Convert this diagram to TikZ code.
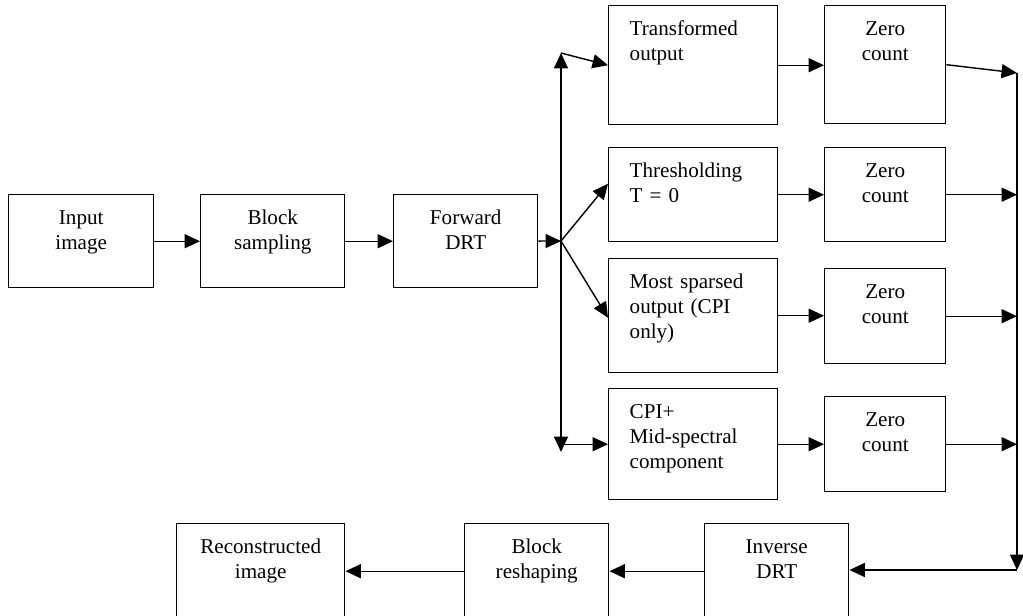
\documentclass[tikz,border=0pt]{standalone}
\usepackage{fontspec}
\setmainfont{Liberation Serif}
\usepackage{tkz-euclide}
\usetikzlibrary{arrows.meta}

\begin{document}
\begin{tikzpicture}[x=0.025cm,y=-0.025cm,
    blk/.style={draw,line width=1pt,anchor=north west,inner ysep=0pt,
        text height=0.74cm,font=\fontsize{15}{17.8}\selectfont},
    mid/.style={inner xsep=0pt,align=center},% centred text
    lft/.style={inner xsep=0.525cm,text width=3.175cm,align=left},
    arr/.style={line width=1pt,-{Triangle[length=11pt,width=10pt]}}
    ]
\useasboundingbox (0,0) rectangle (1023,616);
\clip (0,0) rectangle (1023,616);
\tkzDefPoints{561/241/J,561/53/T,561/452/B,1017/73/R,1017/570/S}
% forward part
\node[blk,mid,text width=3.625cm,text depth=1.585cm] (in) at (8,194) {Input\\image};
\node[blk,mid,text width=3.6cm,text depth=1.585cm] (samp) at (200,194) {Block\\sampling};
\node[blk,mid,text width=3.6cm,text depth=1.585cm] (fwd) at (393,194) {Forward\\DRT};
% four branches
\node[blk,lft,text depth=2.235cm] (trans) at (608,5) {Transformed\\output};
\node[blk,lft,text depth=1.61cm] (thr) at (608,147) {Thresholding\\T = 0};
\node[blk,lft,text depth=2.11cm] (sparse) at (608,258) {Most sparsed\\output (CPI\\only)};
\node[blk,lft,text depth=2.035cm] (cpi) at (608,388) {CPI+\\Mid-spectral\\component};
\node[blk,mid,text width=3.025cm,text depth=2.21cm] (z1) at (824,5) {Zero\\count};
\node[blk,mid,text width=3.025cm,text depth=1.61cm] (z2) at (824,147) {Zero\\count};
\node[blk,mid,text width=3.025cm,text depth=1.635cm] (z3) at (824,268) {Zero\\count};
\node[blk,mid,text width=3.025cm,text depth=1.635cm] (z4) at (824,396) {Zero\\count};
% inverse part
\node[blk,mid,text width=3.6cm,text depth=1.635cm] (inv) at (704,523) {Inverse\\DRT};
\node[blk,mid,text width=3.6cm,text depth=1.635cm] (resh) at (464,523) {Block\\reshaping};
\node[blk,mid,text width=4.2cm,text depth=1.635cm] (rec) at (176,523) {Reconstructed\\image};

\draw[arr] (in) -- (samp);
\draw[arr] (samp) -- (fwd);
\draw[arr] (fwd) -- (J);
\draw[arr] (J) -- (T);
\draw[arr] (J) -- (B);
\draw[arr] (T) -- (trans.west);
\draw[arr] (J) -- ([yshift=0.275cm]thr.west);
\draw[arr] (J) -- ([yshift=-0.05cm]sparse.west);
\draw[arr] (B |- cpi.west) -- (cpi.west);
\foreach \a/\b in {trans/z1,thr/z2,sparse/z3,cpi/z4}
    \draw[arr] (\a.east) -- (\a.east -| \b.west);
\draw[arr] (z1.east) -- (R);
\foreach \i in {2,3,4}
    \draw[arr] (z\i.east) -- (z\i.east -| R);
\draw[arr] (R) -- (S);
\draw[arr] (S) -- (inv.east |- S);
\draw[arr] (inv) -- (resh);
\draw[arr] (resh) -- (rec);
\end{tikzpicture}
\end{document}
